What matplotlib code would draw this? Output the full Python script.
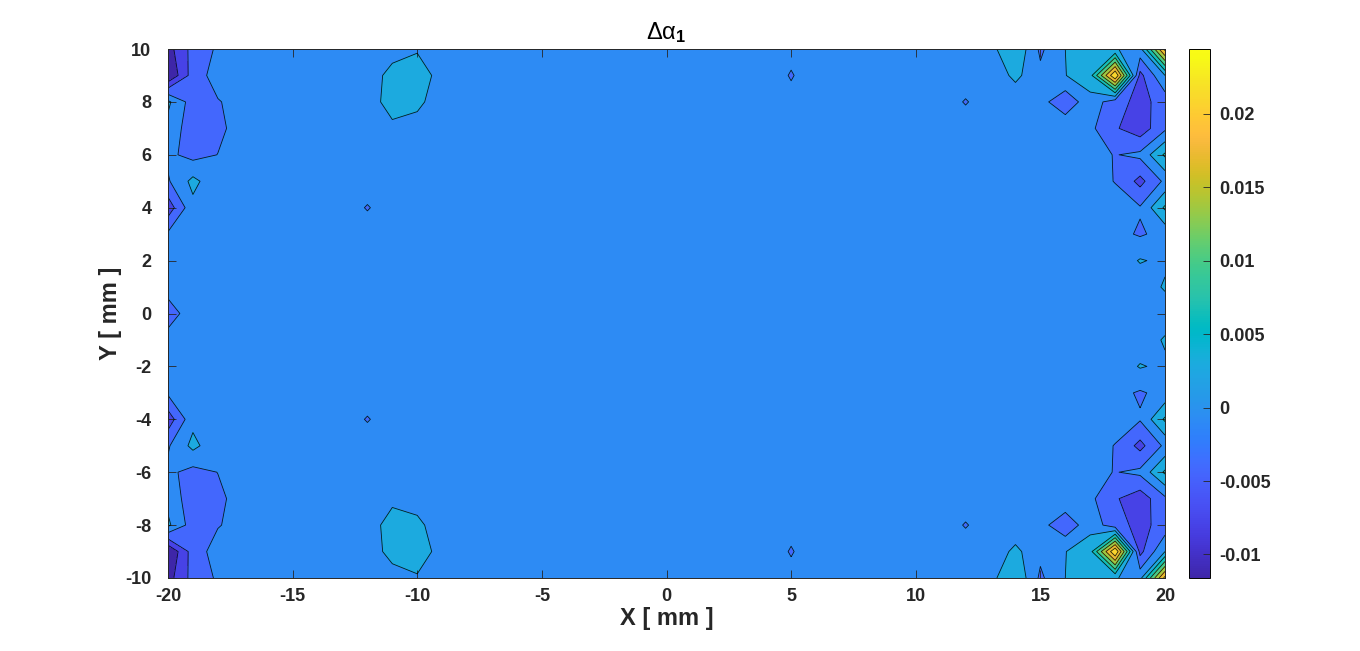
import numpy as np
import matplotlib
matplotlib.use("Agg")
import matplotlib.pyplot as plt
from matplotlib.colors import Normalize, LinearSegmentedColormap
from matplotlib.cm import ScalarMappable

plt.rcParams['font.family'] = ['Liberation Sans', 'DejaVu Sans']
plt.rcParams['axes.unicode_minus'] = False
plt.rcParams['mathtext.fontset'] = 'custom'
plt.rcParams['mathtext.rm'] = 'Liberation Sans'
plt.rcParams['mathtext.it'] = 'Liberation Sans:italic'
plt.rcParams['mathtext.bf'] = 'Liberation Sans:bold'

# ---------------- data ----------------
x_mm = np.arange(-20, 21)          # grid columns (mm)
y_mm = np.arange(-10, 11)          # grid rows (mm)
z_background = 0.0003

# right block, columns x = 13..20, rows y = 10 .. -10
right_cols = [13, 14, 15, 16, 17, 18, 19, 20]
right_rows = [10, 9, 8, 7, 6, 5, 4, 3, 2, 1, 0, -1, -2, -3, -4, -5, -6, -7, -8, -9, -10]
right_vals = [
    [0.0017, 0.0060, -0.0015, 0.0028, 0.0045, 0.0030, 0.0016, 0.0220],
    [0.0003, 0.0037, 0.0001, 0.0027, 0.0050, 0.0244, -0.0055, 0.0028],
    [0.0003, 0.0003, 0.0005, -0.0034, 0.0015, -0.0030, -0.0055, -0.0030],
    [0.0003, 0.0003, 0.0003, 0.0020, 0.0000, -0.0040, -0.0065, -0.0015],
    [0.0003, 0.0003, 0.0003, 0.0003, 0.0003, -0.00095, 0.0000, 0.0070],
    [0.0003, 0.0003, 0.0003, 0.0003, 0.0003, -0.0009, -0.0055, 0.0000],
    [0.0003, 0.0003, 0.0003, 0.0003, 0.0003, 0.0003, -0.0005, 0.0070],
    [0.0003, 0.0003, 0.0003, 0.0003, 0.0003, 0.0003, -0.0012, 0.0003],
    [0.0003, 0.0003, 0.0003, 0.0003, 0.0003, 0.0003, 0.0031, 0.0020],
    [0.0003, 0.0003, 0.0003, 0.0003, 0.0003, 0.0003, 0.0003, 0.0033],
    [0.0003, 0.0003, 0.0003, 0.0003, 0.0003, 0.0003, 0.0003, 0.0003],
    [0.0003, 0.0003, 0.0003, 0.0003, 0.0003, 0.0003, 0.0003, 0.0033],
    [0.0003, 0.0003, 0.0003, 0.0003, 0.0003, 0.0003, 0.0031, 0.0020],
    [0.0003, 0.0003, 0.0003, 0.0003, 0.0003, 0.0003, -0.0012, 0.0003],
    [0.0003, 0.0003, 0.0003, 0.0003, 0.0003, 0.0003, -0.0005, 0.0070],
    [0.0003, 0.0003, 0.0003, 0.0003, 0.0003, -0.0009, -0.0055, 0.0000],
    [0.0003, 0.0003, 0.0003, 0.0003, 0.0003, -0.00095, 0.0000, 0.0070],
    [0.0003, 0.0003, 0.0003, 0.0020, 0.0000, -0.0040, -0.0065, -0.0015],
    [0.0003, 0.0003, 0.0005, -0.0034, 0.0015, -0.0030, -0.0055, -0.0030],
    [0.0003, 0.0037, 0.0001, 0.0027, 0.0050, 0.0244, -0.0055, 0.0028],
    [0.0017, 0.0060, -0.0015, 0.0028, 0.0045, 0.0030, 0.0016, 0.0220],
]

# left block, columns x = -20..-17
left_cols = [-20, -19, -18, -17]
left_rows = right_rows
left_vals = [
    [-0.0095, -0.0031, -0.0003, 0.0005],
    [-0.0116, -0.0027, 0.00075, 0.0005],
    [0.0035, -0.0026, -0.00103, 0.0005],
    [0.00175, -0.0030, -0.0015, 0.0005],
    [0.0000, -0.0020, -0.00075, 0.0005],
    [-0.0012, 0.0038, 0.0003, 0.0003],
    [-0.0065, 0.0018, 0.0003, 0.0003],
    [-0.0002, 0.0003, 0.0003, 0.0003],
    [0.0003, 0.0003, 0.0003, 0.0003],
    [0.0000, 0.0003, 0.0003, 0.0003],
    [-0.0018, 0.0003, 0.0003, 0.0003],
    [0.0000, 0.0003, 0.0003, 0.0003],
    [0.0003, 0.0003, 0.0003, 0.0003],
    [-0.0002, 0.0003, 0.0003, 0.0003],
    [-0.0065, 0.0018, 0.0003, 0.0003],
    [-0.0012, 0.0038, 0.0003, 0.0003],
    [0.0000, -0.0020, -0.00075, 0.0005],
    [0.00175, -0.0030, -0.0015, 0.0005],
    [0.0035, -0.0026, -0.00103, 0.0005],
    [-0.0116, -0.0027, 0.00075, 0.0005],
    [-0.0095, -0.0031, -0.0003, 0.0005],
]

# blobs near x = -10, columns x = -12..-9
blob_cols = [-12, -11, -10, -9]
blob_rows = [10, 9, 8, 7, -7, -8, -9, -10]
blob_vals = [
    [0.0006, 0.00116, 0.0025, 0.0015],
    [0.0006, 0.0042, 0.0044, 0.00164],
    [0.00145, 0.0040, 0.0042, -0.0005],
    [0.0003, 0.0022, 0.0004, 0.0003],
    [0.0003, 0.0022, 0.0004, 0.0003],
    [0.00145, 0.0040, 0.0042, -0.0005],
    [0.0006, 0.0042, 0.0044, 0.00164],
    [0.0006, 0.00116, 0.0025, 0.0015],
]

# isolated small dips
spot_x = [-12, -12, 5, 5, 5, 5, 5, 5, 12, 12]
spot_y = [4, -4, 10, 9, 8, -8, -9, -10, 8, -8]
spot_v = [-0.00095, -0.00095, -0.0002, -0.00095, -0.0002,
          -0.0002, -0.00095, -0.0002, -0.00095, -0.00095]

cbar_ticks = [-0.01, -0.005, 0, 0.005, 0.01, 0.015, 0.02]
cbar_labels = ['-0.01', '-0.005', '0', '0.005', '0.01', '0.015', '0.02']
x_ticks = [-20, -15, -10, -5, 0, 5, 10, 15, 20]
y_ticks = [-10, -8, -6, -4, -2, 0, 2, 4, 6, 8, 10]

# ---------------- assemble grid ----------------
Z = np.full((len(y_mm), len(x_mm)), z_background)
xi = {v: i for i, v in enumerate(x_mm)}
yi = {v: i for i, v in enumerate(y_mm)}
def put(cols, rows, vals):
    for r, yv in enumerate(rows):
        for c, xv in enumerate(cols):
            Z[yi[yv], xi[xv]] = vals[r][c]
put(right_cols, right_rows, right_vals)
put(left_cols, left_rows, left_vals)
put(blob_cols, blob_rows, blob_vals)
for xv, yv, v in zip(spot_x, spot_y, spot_v):
    Z[yi[yv], xi[xv]] = v
X, Y = np.meshgrid(x_mm, y_mm)

# ---------------- parula colormap ----------------
parula_data = [
[0.2422,0.1504,0.6603],[0.2504,0.1650,0.7076],[0.2578,0.1818,0.7511],[0.2647,0.1978,0.7952],
[0.2706,0.2147,0.8364],[0.2751,0.2342,0.8710],[0.2783,0.2559,0.8991],[0.2803,0.2782,0.9221],
[0.2813,0.3006,0.9414],[0.2810,0.3228,0.9579],[0.2795,0.3447,0.9717],[0.2760,0.3667,0.9829],
[0.2699,0.3892,0.9906],[0.2602,0.4123,0.9952],[0.2440,0.4358,0.9988],[0.2206,0.4603,0.9973],
[0.1963,0.4847,0.9892],[0.1834,0.5074,0.9798],[0.1786,0.5289,0.9682],[0.1764,0.5499,0.9520],
[0.1687,0.5703,0.9359],[0.1540,0.5902,0.9218],[0.1460,0.6091,0.9079],[0.1380,0.6276,0.8973],
[0.1248,0.6459,0.8883],[0.1113,0.6635,0.8763],[0.0952,0.6798,0.8598],[0.0689,0.6948,0.8394],
[0.0297,0.7082,0.8163],[0.0036,0.7203,0.7917],[0.0067,0.7312,0.7660],[0.0433,0.7411,0.7394],
[0.0964,0.7500,0.7120],[0.1408,0.7584,0.6842],[0.1717,0.7670,0.6554],[0.1938,0.7758,0.6251],
[0.2161,0.7843,0.5923],[0.2470,0.7918,0.5567],[0.2906,0.7973,0.5188],[0.3406,0.8008,0.4789],
[0.3909,0.8029,0.4354],[0.4456,0.8024,0.3909],[0.5044,0.7993,0.3480],[0.5616,0.7942,0.3045],
[0.6174,0.7876,0.2612],[0.6720,0.7793,0.2227],[0.7242,0.7698,0.1910],[0.7738,0.7598,0.1646],
[0.8203,0.7498,0.1535],[0.8634,0.7406,0.1596],[0.9035,0.7330,0.1774],[0.9393,0.7288,0.2100],
[0.9728,0.7298,0.2394],[0.9956,0.7434,0.2371],[0.9970,0.7659,0.2199],[0.9952,0.7893,0.2028],
[0.9892,0.8136,0.1885],[0.9808,0.8386,0.1751],[0.9739,0.8646,0.1624],[0.9701,0.8916,0.1480],
[0.9678,0.9195,0.1311],[0.9668,0.9486,0.1112],[0.9700,0.9789,0.0843],[0.9769,0.9839,0.0805]]
parula = LinearSegmentedColormap.from_list('parula', parula_data, N=256)

zmin, zmax = Z.min(), Z.max()
levels = np.linspace(zmin, zmax, 11)
band_colors = [parula((lv - zmin) / (zmax - zmin)) for lv in levels[:-1]]

# ---------------- figure ----------------
fig = plt.figure(figsize=(13.6, 6.51), dpi=100)
ax = fig.add_axes([168/1360, 73/651, 997/1360, 529/651])
ax.contourf(X, Y, Z, levels=levels, colors=band_colors)
ax.contour(X, Y, Z, levels=levels[1:-1], colors='k', linewidths=0.6,
           alpha=0.85, negative_linestyles='solid')
ax.set_xlim(-20, 20)
ax.set_ylim(-10, 10)
ax.set_xticks(x_ticks)
ax.set_yticks(y_ticks)
ax.tick_params(direction='in', top=True, right=True, length=6, width=0.6,
               labelsize=13, colors='#262626')
ax.tick_params(axis='y', pad=12)
ax.tick_params(axis='x', pad=7)
for lab in ax.get_xticklabels() + ax.get_yticklabels():
    lab.set_fontweight('bold')
for s in ax.spines.values():
    s.set_linewidth(0.7)
    s.set_color('#262626')
ax.set_xlabel('X [ mm ]', fontsize=17, fontweight='bold', labelpad=2, color='#262626')
ax.set_ylabel('Y [ mm ]', fontsize=17, fontweight='bold', labelpad=2, color='#262626')
ax.set_title('Δα$_\\mathbf{1}$', fontsize=17, pad=7)

cax = fig.add_axes([1189/1360, 73/651, 21/1360, 529/651])
sm = ScalarMappable(norm=Normalize(zmin, zmax), cmap=parula)
cb = fig.colorbar(sm, cax=cax)
cb.set_ticks(cbar_ticks)
cb.set_ticklabels(cbar_labels)
cax.tick_params(direction='in', length=5, width=0.6, labelsize=13, pad=7, colors='#262626')
for lab in cax.get_yticklabels():
    lab.set_fontweight('bold')
cb.outline.set_linewidth(0.7)

fig.savefig('out.png', dpi=100)
